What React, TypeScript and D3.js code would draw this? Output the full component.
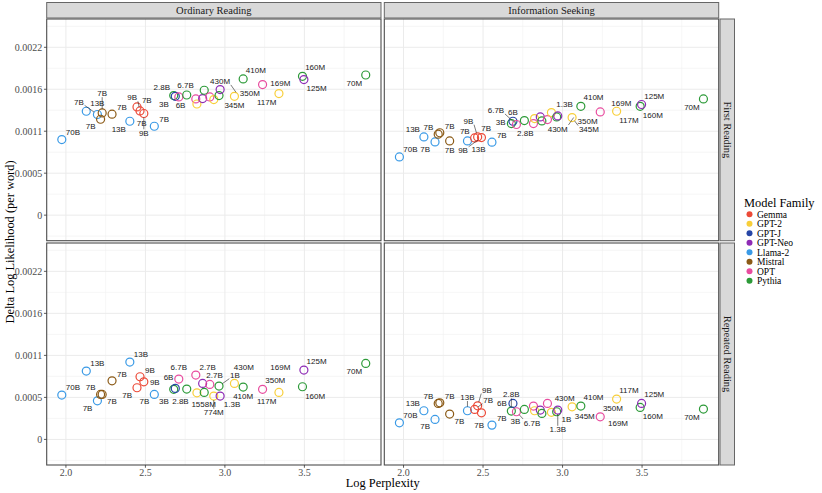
import React, { useRef, useEffect } from "react";
import * as d3 from "d3";

// legend order and colours
const familyNames = ["Gemma", "GPT-2", "GPT-J", "GPT-Neo", "Llama-2", "Mistral", "OPT", "Pythia"];
const familyColors = ["#EC4A38", "#F8CF3A", "#2746A6", "#8E2BB5", "#3A9AE6", "#8B5A16", "#E84C9F", "#2C9A38"];

const columnTitles = ["Ordinary Reading", "Information Seeking"];
const rowTitles = ["First Reading", "Repeated Reading"];

const xTicks = [2.0, 2.5, 3.0, 3.5];
const xTickLabels = ["2.0", "2.5", "3.0", "3.5"];
const yTicks = [0, 0.00055, 0.0011, 0.00165, 0.0022];
const yTickLabels = ["0", "0.0005", "0.0011", "0.0016", "0.0022"];

// one entry per model; "RWKV" is not in the colour scale, so only its label shows
const modelFamily = [
    "Llama-2", "Llama-2", "Llama-2", "Mistral", "Mistral", "Mistral", "Llama-2", "Gemma", "Gemma", "Gemma",
    "RWKV", "Llama-2", "RWKV", "Pythia", "GPT-J", "OPT", "Pythia", "OPT", "GPT-2", "GPT-Neo",
    "Pythia", "OPT", "GPT-2", "Pythia", "GPT-Neo", "GPT-2", "RWKV", "Pythia", "OPT", "RWKV",
    "GPT-2", "Pythia", "GPT-Neo", "Pythia",
];
const modelSize = [
    "70B", "13B", "7B", "7B", "7B", "7B", "13B", "7B", "9B", "9B",
    "7B", "7B", "3B", "2.8B", "6B", "6.7B", "6.9B", "2.7B", "1558M", "2.7B",
    "1.4B", "1.3B", "774M", "1B", "1.3B", "345M", "430M", "410M", "350M", "169M",
    "117M", "160M", "125M", "70M",
];
const logPerplexity = [
    1.974, 2.128, 2.198, 2.218, 2.228, 2.29, 2.402, 2.447, 2.466, 2.49,
    2.52, 2.556, 2.66, 2.678, 2.688, 2.71, 2.76, 2.817, 2.824, 2.86,
    2.87, 2.905, 2.93, 2.963, 2.97, 3.06, 3.07, 3.115, 3.237, 3.3,
    3.34, 3.488, 3.497, 3.886,
];
const ordinaryFirst = [
    0.000991, 0.001362, 0.001319, 0.001257, 0.00134, 0.001323, 0.001231, 0.001418, 0.001366, 0.001332,
    0.00127, 0.001165, 0.00152, 0.001567, 0.001558, 0.001549, 0.001575, 0.001523, 0.001457, 0.001528,
    0.001637, 0.001549, 0.001515, 0.001567, 0.001646, 0.001558, 0.00161, 0.001785, 0.001712, 0.00166,
    0.001594, 0.00182, 0.001777, 0.001837,
];
const infoFirst = [
    0.000763, 0.001025, 0.00096, 0.001061, 0.00108, 0.000973, 0.000973, 0.001012, 0.001025, 0.001017,
    0.00107, 0.000956, 0.00115, 0.0012, 0.001231, 0.001188, 0.00124, 0.0012, 0.001266, 0.001287,
    0.001235, 0.001253, 0.001345, 0.001287, 0.0013, 0.001279, 0.00128, 0.001427, 0.001353, 0.00137,
    0.001362, 0.001427, 0.00145, 0.001523,
];
const ordinaryRepeated = [
    0.00058, 0.000894, 0.000505, 0.000589, 0.000589, 0.000767, 0.001012, 0.000676, 0.00082, 0.000754,
    0.00062, 0.000589, 0.00057, 0.000655, 0.000668, 0.00079, 0.000659, 0.000842, 0.00061, 0.000733,
    0.000615, 0.00072, 0.000567, 0.000698, 0.000567, 0.000733, 0.00088, 0.000685, 0.000655, 0.00088,
    0.000615, 0.000689, 0.000907, 0.000995,
];
const infoRepeated = [
    0.000217, 0.000375, 0.000262, 0.000471, 0.000479, 0.000331, 0.000375, 0.000393, 0.00044, 0.000348,
    0.00025, 0.000187, 0.0003, 0.000371, 0.000471, 0.000362, 0.000393, 0.000436, 0.000375, 0.000384,
    0.00034, 0.000471, 0.000354, 0.000362, 0.000384, 0.000427, 0.00046, 0.000436, 0.000296, 0.00029,
    0.000528, 0.000419, 0.000471, 0.000397,
];

const panelValues = [
    [ordinaryFirst, infoFirst],
    [ordinaryRepeated, infoRepeated],
];

const W = 822;
const H = 493;
const colRanges: [number, number][] = [[46.7, 381], [384.3, 718.7]];
const rowRanges: [number, number][] = [[19, 240.7], [243, 465]];
const xDomain: [number, number] = [1.879, 3.982];
const yDomain: [number, number] = [-0.000335, 0.002571];
const SERIF = "'Liberation Serif', 'Times New Roman', serif";
const SANS = "'Liberation Sans', Arial, sans-serif";
const R = 4;
const LABEL_H = 7.5;

interface Box { x0: number; y0: number; x1: number; y1: number; }
interface Pt { px: number; py: number; text: string; visible: boolean; }

const boxDist = (px: number, py: number, b: Box) => {
    const dx = Math.max(b.x0 - px, 0, px - b.x1);
    const dy = Math.max(b.y0 - py, 0, py - b.y1);
    return Math.hypot(dx, dy);
};

// greedy repel: isolated points first, nearest free spot, drop crowded ones
function placeLabels(pts: Pt[], bounds: Box, width: (s: string) => number) {
    const circles = pts.filter((p) => p.visible);
    const boxes: Box[] = [];
    const out: { p: Pt; b: Box; gap: number }[] = [];
    const density = pts.map(
        (p) => circles.filter((c) => Math.hypot(c.px - p.px, c.py - p.py) < 16).length
    );
    const order = d3.range(pts.length).sort((a, b) => density[a] - density[b] || a - b);
    const angles = [-35, 145, 35, -145, 0, 180, -90, 90, -60, 120, 60, -120].map(
        (d) => (d * Math.PI) / 180
    );
    const gaps = [0.5, 1.5, 3, 5, 8, 11];

    for (const i of order) {
        const p = pts[i];
        if (density[i] >= 6) continue;
        const w = width(p.text) + 1.5;
        const r0 = p.visible ? R + 0.6 : 1;
        let found: { b: Box; gap: number } | null = null;
        for (const gap of gaps) {
            for (const a of angles) {
                const ux = Math.cos(a), uy = Math.sin(a);
                let b: Box | null = null;
                for (let t = 0; t < 60; t += 0.5) {
                    const cx = p.px + ux * t, cy = p.py + uy * t;
                    const cand = { x0: cx - w / 2, x1: cx + w / 2, y0: cy - LABEL_H / 2, y1: cy + LABEL_H / 2 };
                    if (boxDist(p.px, p.py, cand) >= r0 + gap) { b = cand; break; }
                }
                if (!b) continue;
                if (b.x0 < bounds.x0 + 1.5 || b.x1 > bounds.x1 - 1 || b.y0 < bounds.y0 + 1.5 || b.y1 > bounds.y1 - 1.5) continue;
                if (boxes.some((o) => !(b!.x1 + 1 < o.x0 || b!.x0 - 1 > o.x1 || b!.y1 + 0.5 < o.y0 || b!.y0 - 0.5 > o.y1))) continue;
                if (circles.some((c) => boxDist(c.px, c.py, b!) < R + 0.6)) continue;
                found = { b, gap };
                break;
            }
            if (found) break;
        }
        if (!found) continue;
        boxes.push(found.b);
        out.push({ p, b: found.b, gap: found.gap });
    }
    return out;
}

const App: React.FC = () => {
    const svgRef = useRef<SVGSVGElement | null>(null);

    useEffect(() => {
        const svg = d3.select(svgRef.current!);
        svg.selectAll("*").remove();

        const ctx = document.createElement("canvas").getContext("2d")!;
        ctx.font = `8px ${SANS}`;
        const textWidth = (s: string) => ctx.measureText(s).width;

        const color = d3.scaleOrdinal<string, string>().domain(familyNames).range(familyColors);

        svg.append("rect").attr("width", W).attr("height", H).attr("fill", "white");

        rowTitles.forEach((rowTitle, ri) => {
            columnTitles.forEach((colTitle, ci) => {
                const [x0, x1] = colRanges[ci];
                const [y0, y1] = rowRanges[ri];
                const x = d3.scaleLinear().domain(xDomain).range([x0, x1]);
                const y = d3.scaleLinear().domain(yDomain).range([y1, y0]);
                const g = svg.append("g");

                const xMinor = d3.range(1.75, 4.0, 0.5).filter((v) => v > xDomain[0] && v < xDomain[1]);
                const yMinor = d3.range(-0.000275, 0.0026, 0.00055).filter((v) => v > yDomain[0] && v < yDomain[1]);

                g.selectAll(".xminor").data(xMinor).join("line")
                    .attr("x1", (d) => x(d)).attr("x2", (d) => x(d)).attr("y1", y0).attr("y2", y1)
                    .attr("stroke", "#F0F0F0").attr("stroke-width", 0.6);
                g.selectAll(".yminor").data(yMinor).join("line")
                    .attr("x1", x0).attr("x2", x1).attr("y1", (d) => y(d)).attr("y2", (d) => y(d))
                    .attr("stroke", "#F0F0F0").attr("stroke-width", 0.6);
                g.selectAll(".xmajor").data(xTicks).join("line")
                    .attr("x1", (d) => x(d)).attr("x2", (d) => x(d)).attr("y1", y0).attr("y2", y1)
                    .attr("stroke", "#EBEBEB").attr("stroke-width", 1);
                g.selectAll(".ymajor").data(yTicks).join("line")
                    .attr("x1", x0).attr("x2", x1).attr("y1", (d) => y(d)).attr("y2", (d) => y(d))
                    .attr("stroke", "#EBEBEB").attr("stroke-width", 1);

                const vals = panelValues[ri][ci];
                const pts: Pt[] = modelSize.map((s, i) => ({
                    px: x(logPerplexity[i]),
                    py: y(vals[i]),
                    text: s,
                    visible: familyNames.includes(modelFamily[i]),
                }));

                g.selectAll("circle").data(d3.range(pts.length).filter((i) => pts[i].visible)).join("circle")
                    .attr("cx", (i) => pts[i].px).attr("cy", (i) => pts[i].py).attr("r", R)
                    .attr("fill", "none").attr("stroke", (i) => color(modelFamily[i]))
                    .attr("stroke-width", 1.2);

                const labels = placeLabels(pts, { x0, x1, y0, y1 }, textWidth);

                labels.filter((l) => l.gap >= 5).forEach((l) => {
                    const nx = Math.max(l.b.x0, Math.min(l.p.px, l.b.x1));
                    const ny = Math.max(l.b.y0, Math.min(l.p.py, l.b.y1));
                    const len = Math.hypot(nx - l.p.px, ny - l.p.py);
                    const r0 = l.p.visible ? R : 0;
                    g.append("line")
                        .attr("x1", l.p.px + ((nx - l.p.px) / len) * r0)
                        .attr("y1", l.p.py + ((ny - l.p.py) / len) * r0)
                        .attr("x2", nx).attr("y2", ny)
                        .attr("stroke", "#222").attr("stroke-width", 0.6);
                });

                g.selectAll("text.lbl").data(labels).join("text")
                    .attr("class", "lbl")
                    .attr("x", (l) => (l.b.x0 + l.b.x1) / 2)
                    .attr("y", (l) => (l.b.y0 + l.b.y1) / 2 + 2.9)
                    .attr("text-anchor", "middle")
                    .style("font", `8px ${SANS}`)
                    .attr("fill", "#1A1A1A")
                    .text((l) => l.p.text);

                g.append("rect")
                    .attr("x", x0).attr("y", y0).attr("width", x1 - x0).attr("height", y1 - y0)
                    .attr("fill", "none").attr("stroke", "#4D4D4D").attr("stroke-width", 1.1);

                if (ri === 0) {
                    g.append("rect")
                        .attr("x", x0).attr("y", 2.5).attr("width", x1 - x0).attr("height", 15.5)
                        .attr("fill", "#D9D9D9").attr("stroke", "#666").attr("stroke-width", 1);
                    g.append("text")
                        .attr("x", (x0 + x1) / 2).attr("y", 14)
                        .attr("text-anchor", "middle")
                        .style("font", `10.5px ${SERIF}`).attr("fill", "#1A1A1A")
                        .text(colTitle);
                }
                if (ci === 1) {
                    g.append("rect")
                        .attr("x", 720).attr("y", y0).attr("width", 14.5).attr("height", y1 - y0)
                        .attr("fill", "#D9D9D9").attr("stroke", "#666").attr("stroke-width", 1);
                    g.append("text")
                        .attr("transform", `translate(723.8,${(y0 + y1) / 2}) rotate(90)`)
                        .attr("text-anchor", "middle")
                        .style("font", `10.5px ${SERIF}`).attr("fill", "#1A1A1A")
                        .text(rowTitle);
                }
                if (ci === 0) {
                    g.selectAll(".ytick").data(yTicks).join("line")
                        .attr("x1", x0 - 2.75).attr("x2", x0).attr("y1", (d) => y(d)).attr("y2", (d) => y(d))
                        .attr("stroke", "#333").attr("stroke-width", 0.8);
                    g.selectAll(".ylab").data(yTicks).join("text")
                        .attr("x", x0 - 4.5).attr("y", (d) => y(d) + 3.4)
                        .attr("text-anchor", "end")
                        .style("font", `10px ${SERIF}`).attr("fill", "#4D4D4D")
                        .text((d, i) => yTickLabels[i]);
                }
                if (ri === 1) {
                    g.selectAll(".xtick").data(xTicks).join("line")
                        .attr("x1", (d) => x(d)).attr("x2", (d) => x(d)).attr("y1", y1).attr("y2", y1 + 2.75)
                        .attr("stroke", "#333").attr("stroke-width", 0.8);
                    g.selectAll(".xlab").data(xTicks).join("text")
                        .attr("x", (d) => x(d)).attr("y", y1 + 10.5)
                        .attr("text-anchor", "middle")
                        .style("font", `10px ${SERIF}`).attr("fill", "#4D4D4D")
                        .text((d, i) => xTickLabels[i]);
                }
            });
        });

        svg.append("text")
            .attr("x", (colRanges[0][0] + colRanges[1][1]) / 2).attr("y", 487)
            .attr("text-anchor", "middle")
            .style("font", `12.4px ${SERIF}`).attr("fill", "black")
            .text("Log Perplexity");
        svg.append("text")
            .attr("transform", `translate(14,${(rowRanges[0][0] + rowRanges[1][1]) / 2}) rotate(-90)`)
            .attr("text-anchor", "middle")
            .style("font", `12.4px ${SERIF}`).attr("fill", "black")
            .text("Delta Log Likelihood (per word)");

        const legend = svg.append("g").attr("transform", "translate(744,0)");
        legend.append("text")
            .attr("x", 0).attr("y", 206.5)
            .style("font", `12.4px ${SERIF}`).attr("fill", "black")
            .text("Model Family");
        legend.selectAll("circle").data(familyNames).join("circle")
            .attr("cx", 5.5).attr("cy", (d, i) => 214.3 + i * 9.5).attr("r", 3)
            .attr("fill", (d) => color(d));
        legend.selectAll("text.item").data(familyNames).join("text")
            .attr("class", "item")
            .attr("x", 13).attr("y", (d, i) => 214.3 + i * 9.5 + 3.2)
            .style("font", `9.5px ${SERIF}`).attr("fill", "black")
            .text((d) => d);
    }, []);

    return (
        <div>
            <svg
                ref={svgRef}
                width={W}
                height={H}
                style={{ position: "absolute", left: 0, top: 0, display: "block" }}
            />
        </div>
    );
};

export default App;
